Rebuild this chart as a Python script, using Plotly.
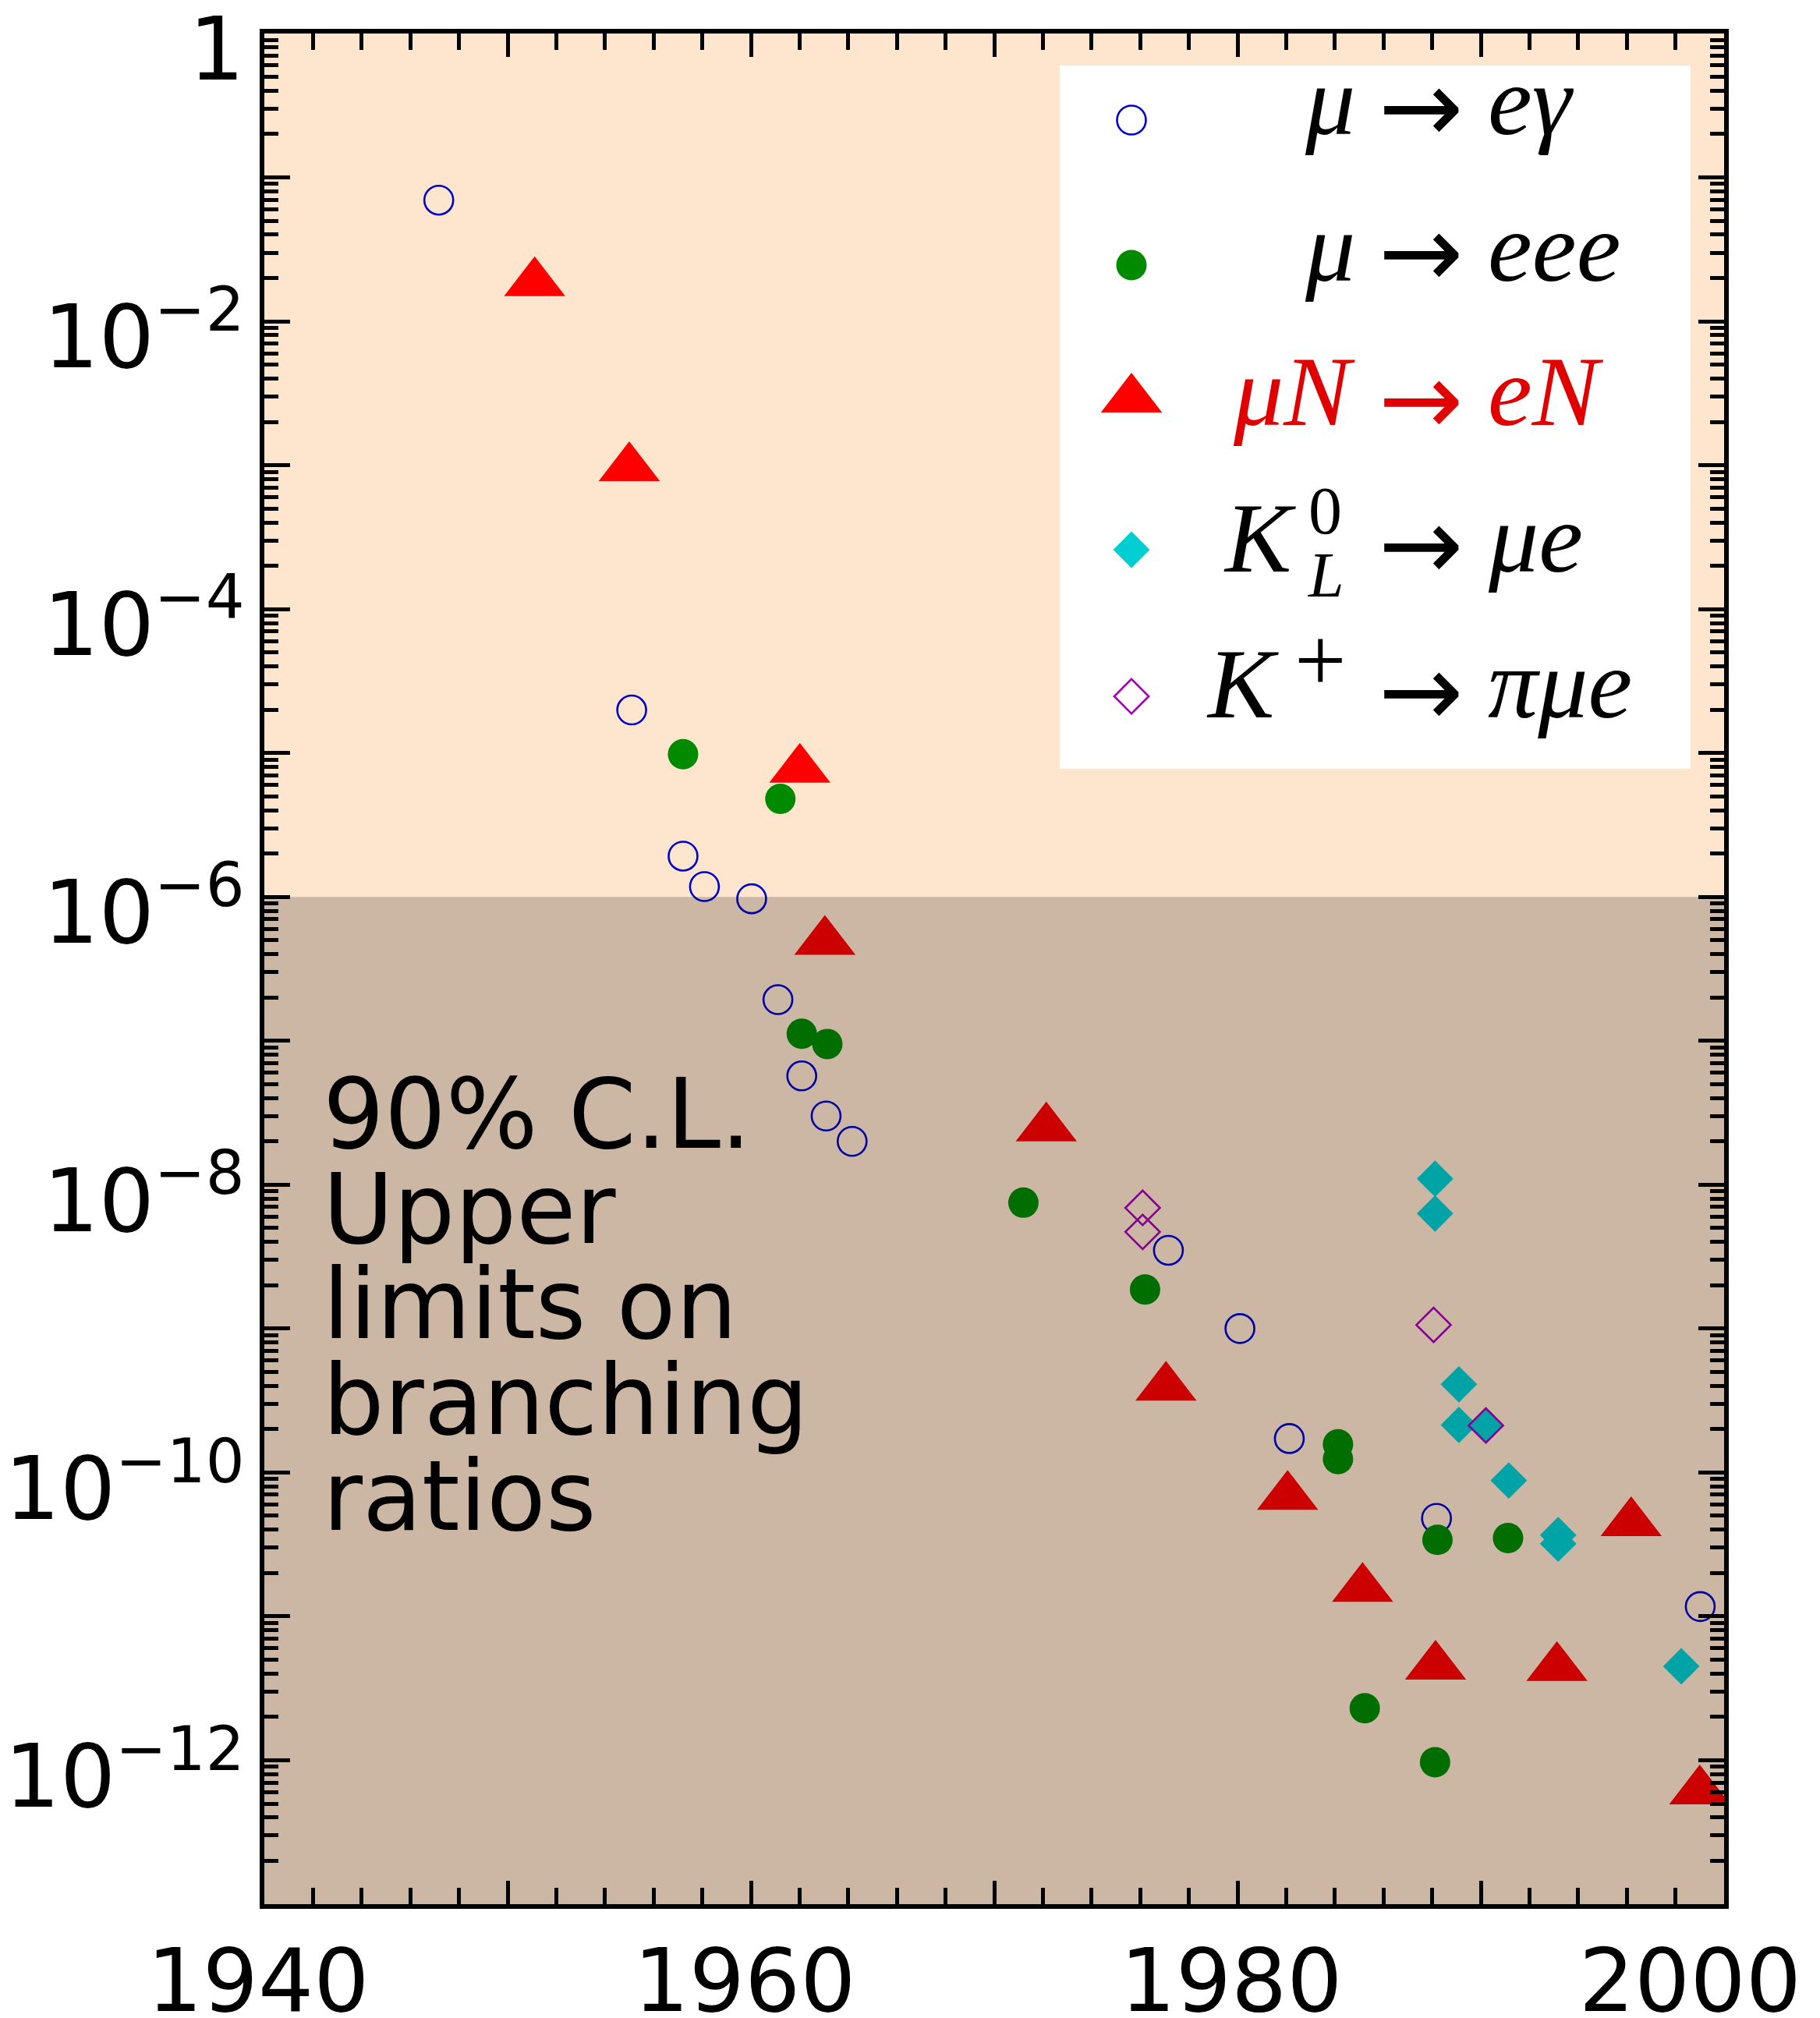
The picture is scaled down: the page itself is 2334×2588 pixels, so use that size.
import plotly.graph_objects as go

# ---------------- data (year, 90% C.L. upper limit) ----------------
mueg_year = [1947.17, 1955.10, 1957.21, 1958.09, 1960.03, 1961.11, 1962.09, 1963.09,
             1964.16, 1977.16, 1980.10, 1982.13, 1988.18, 1999.02]
mueg_val = [6.95e-2, 1.99e-5, 1.92e-6, 1.18e-6, 9.7e-7, 1.93e-7, 5.7e-8, 3.0e-8,
            2.0e-8, 3.5e-9, 1.0e-9, 1.72e-10, 4.8e-11, 1.17e-11]

mueee_year = [1957.21, 1961.21, 1962.09, 1963.14, 1971.20, 1976.20, 1984.13, 1984.13,
              1988.22, 1991.12, 1985.23, 1988.12]
mueee_val = [9.8e-6, 4.8e-6, 1.12e-7, 9.5e-8, 7.5e-9, 1.87e-9, 1.57e-10, 1.24e-10,
             3.4e-11, 3.5e-11, 2.3e-12, 9.7e-13]

muNeN_year = [1951.11, 1955.00, 1962.01, 1963.04, 1972.14, 1977.06, 1982.06, 1985.14,
              1988.14, 1993.13, 1996.18, 1999.00]
muNeN_val = [1.85e-2, 9.6e-4, 7.7e-6, 4.9e-7, 2.47e-8, 3.9e-10, 6.8e-11, 1.56e-11,
             4.5e-12, 4.4e-12, 4.47e-11, 6.1e-13]

kl_year = [1988.12, 1988.12, 1989.10, 1989.10, 1990.21, 1991.15, 1993.18, 1993.18, 1998.24]
kl_val = [1.10e-8, 6.3e-9, 4.1e-10, 2.14e-10, 2.12e-10, 8.8e-11, 3.67e-11, 3.2e-11, 4.5e-12]

kp_year = [1976.10, 1976.10, 1988.06, 1990.21]
kp_val = [6.9e-9, 4.7e-9, 1.06e-9, 2.12e-10]

x_major = [1940, 1950, 1960, 1970, 1980, 1990, 2000]
x_labels = ["1940", "", "1960", "", "1980", "", "2000\u2007"]
x_minor = [y for y in range(1942, 2000, 2) if y % 10 != 0]

y_exps = list(range(0, 14))
y_major = [10.0 ** (-k) for k in y_exps]
y_labels = ["1" if k == 0 else ("10<sup>\u2212%d</sup>" % k if k % 2 == 0 else "") for k in y_exps]
y_minor = [m * 10.0 ** (-k) for k in range(1, 14) for m in range(2, 10)]

# ---------------- colours / styles ----------------
C_BLUE = "#0000CC"
C_GREEN = "#008A00"
C_RED = "#FF0000"
C_CYAN = "#00CED1"
C_PURPLE = "#A800B8"
BG = "#FEE5CD"

BODY = 8                      # default page margin of the html body
W, H = 2334 - BODY, 2588 - BODY
PL, PR, PT, PB = 339, 2211, 43, 2442  # plot area in window pixels


def px(xp):
    return (xp - PL) / (PR - PL)


def py(yp):
    return 1 - (yp - PT) / (PB - PT)


S_CIRC = 37
S_DOT = 39
S_TRI = 68
S_DIA = 36

fig = go.Figure()

fig.add_trace(go.Scatter(x=mueg_year, y=mueg_val, mode="markers",
                         marker=dict(symbol="circle-open", size=S_CIRC, color=C_BLUE,
                                     line=dict(width=2.6, color=C_BLUE))))
fig.add_trace(go.Scatter(x=muNeN_year, y=muNeN_val, mode="markers",
                         marker=dict(symbol="triangle-up", size=S_TRI, color=C_RED,
                                     line=dict(width=0))))
fig.add_trace(go.Scatter(x=mueee_year, y=mueee_val, mode="markers",
                         marker=dict(symbol="circle", size=S_DOT, color=C_GREEN,
                                     line=dict(width=0))))
fig.add_trace(go.Scatter(x=kl_year, y=kl_val, mode="markers",
                         marker=dict(symbol="diamond", size=S_DIA, color=C_CYAN,
                                     line=dict(width=0))))
fig.add_trace(go.Scatter(x=kp_year, y=kp_val, mode="markers",
                         marker=dict(symbol="diamond-open", size=S_DIA - 2, color=C_PURPLE,
                                     line=dict(width=2.6, color=C_PURPLE))))

# ---------------- legend (custom, large symbols) ----------------
leg_rows_px = [154, 340, 512, 705, 893]
leg_x_px = 1451
leg_specs = [
    dict(symbol="circle-open", size=S_CIRC, color=C_BLUE, lw=2.6),
    dict(symbol="circle", size=S_DOT, color=C_GREEN, lw=0),
    dict(symbol="triangle-up", size=S_TRI, color=C_RED, lw=0),
    dict(symbol="diamond", size=S_DIA, color=C_CYAN, lw=0),
    dict(symbol="diamond-open", size=S_DIA - 2, color=C_PURPLE, lw=2.6),
]
for ypx, sp in zip(leg_rows_px, leg_specs):
    fig.add_trace(go.Scatter(x=[px(leg_x_px)], y=[py(ypx)], mode="markers",
                             xaxis="x2", yaxis="y2", cliponaxis=False,
                             marker=dict(symbol=sp["symbol"], size=sp["size"], color=sp["color"],
                                         line=dict(width=sp["lw"], color=sp["color"]))))

MATH_FONT = "Liberation Serif"
FS = 128
annotations = []


def add_text(text, xpx, ypx, size, color="black", xanchor="left", family=MATH_FONT):
    annotations.append(dict(text=text, x=px(xpx), y=py(ypx), xref="paper", yref="paper",
                            xanchor=xanchor, yanchor="middle", showarrow=False,
                            font=dict(family=family, size=size, color=color)))


baselines = [172, 360, 545, 733, 920]
arrow_y = [141, 327, 516, 702, 890]
off = 0.3375 * FS
LEFT_END, ARROW_C, RIGHT_START = 1740, 1822, 1906
RED_T = "#E00000"
ARROW_FONT = "DejaVu Sans"
ARROW_FS = 130


def arrow(i, color="black"):
    add_text("→", ARROW_C, arrow_y[i] - 0.03 * ARROW_FS, ARROW_FS, color=color,
             xanchor="center", family=ARROW_FONT)


# row 1: mu -> e gamma
add_text("<i>μ</i>", LEFT_END, baselines[0] - off, FS, xanchor="right")
arrow(0)
add_text("<i>eγ</i>", RIGHT_START, baselines[0] - off, FS)
# row 2: mu -> eee
add_text("<i>μ</i>", LEFT_END, baselines[1] - off, FS, xanchor="right")
arrow(1)
add_text("<i>eee</i>", RIGHT_START, baselines[1] - off, FS)
# row 3: mu N -> e N (red)
add_text("<i>μN</i>", LEFT_END, baselines[2] - off, FS, color=RED_T, xanchor="right")
arrow(2, RED_T)
add_text("<i>eN</i>", RIGHT_START, baselines[2] - off, FS, color=RED_T)
# row 4: K_L^0 -> mu e
add_text("<i>K</i>", 1664, baselines[3] - off, FS, xanchor="right")
add_text("0", 1699, 655, 86, xanchor="center")
add_text("<i>L</i>", 1700, 737, 82, xanchor="center")
arrow(3)
add_text("<i>μe</i>", RIGHT_START, baselines[3] - off, FS)
# row 5: K+ -> pi mu e
add_text("<i>K</i>", 1642, baselines[4] - off, FS, xanchor="right")
add_text("+", 1693, 847, 118, xanchor="center")
arrow(4)
add_text("<i>πμe</i>", RIGHT_START, baselines[4] - off, FS)

# ---------------- big label ----------------
CL_LINES = ["90% C.L.", "Upper", "limits on", "branching", "ratios"]
CL_BASE = [1472, 1594, 1716, 1839, 1962]
CL_FS = 124
for line, b in zip(CL_LINES, CL_BASE):
    add_text(line, 412, b - 0.346 * CL_FS, CL_FS, family="DejaVu Sans")

# ---------------- shapes ----------------
shapes = [
    dict(type="rect", xref="paper", yref="paper", x0=px(1359), x1=px(2168),
         y0=py(986), y1=py(84), fillcolor="white", line=dict(width=0), layer="below"),
    dict(type="rect", xref="paper", yref="paper", x0=0, x1=1, y0=0, y1=(13 - 6) / 13,
         fillcolor="rgba(0,0,0,0.2)", line=dict(width=0), layer="above"),
]

tickfont = dict(family="DejaVu Sans", size=112, color="black")

fig.update_layout(
    width=W, height=H,
    margin=dict(l=PL - BODY, r=2334 - PR, t=PT - BODY, b=2588 - PB, pad=0, autoexpand=False),
    paper_bgcolor="white", plot_bgcolor=BG,
    showlegend=False,
    shapes=shapes,
    annotations=annotations,
    xaxis=dict(range=[1940, 2000], showgrid=False, zeroline=False, automargin=False,
               showline=True, linewidth=6, linecolor="black", mirror="ticks",
               ticks="inside", ticklen=30, tickwidth=5, tickcolor="black",
               tickmode="array", tickvals=x_major, ticktext=x_labels,
               tickfont=tickfont, ticklabelstandoff=-3, ticklabelshift=-8,
               ticklabeloverflow="allow",
               minor=dict(ticks="inside", tickmode="array", tickvals=x_minor,
                          ticklen=21, tickwidth=4.5, tickcolor="black", showgrid=False)),
    yaxis=dict(type="log", range=[-13, 0], showgrid=False, zeroline=False, automargin=False,
               showline=True, linewidth=6, linecolor="black", mirror="ticks",
               ticks="inside", ticklen=33, tickwidth=5, tickcolor="black",
               tickmode="array", tickvals=y_major, ticktext=y_labels,
               tickfont=tickfont, ticklabelstandoff=-3, ticklabelshift=20,
               ticklabeloverflow="allow",
               minor=dict(ticks="inside", tickmode="array", tickvals=y_minor,
                          ticklen=18, tickwidth=4.5, tickcolor="black", showgrid=False)),
    xaxis2=dict(overlaying="x", anchor="y2", range=[0, 1], visible=False),
    yaxis2=dict(overlaying="y", anchor="x2", range=[0, 1], visible=False),
)

fig.write_html("out.html")
